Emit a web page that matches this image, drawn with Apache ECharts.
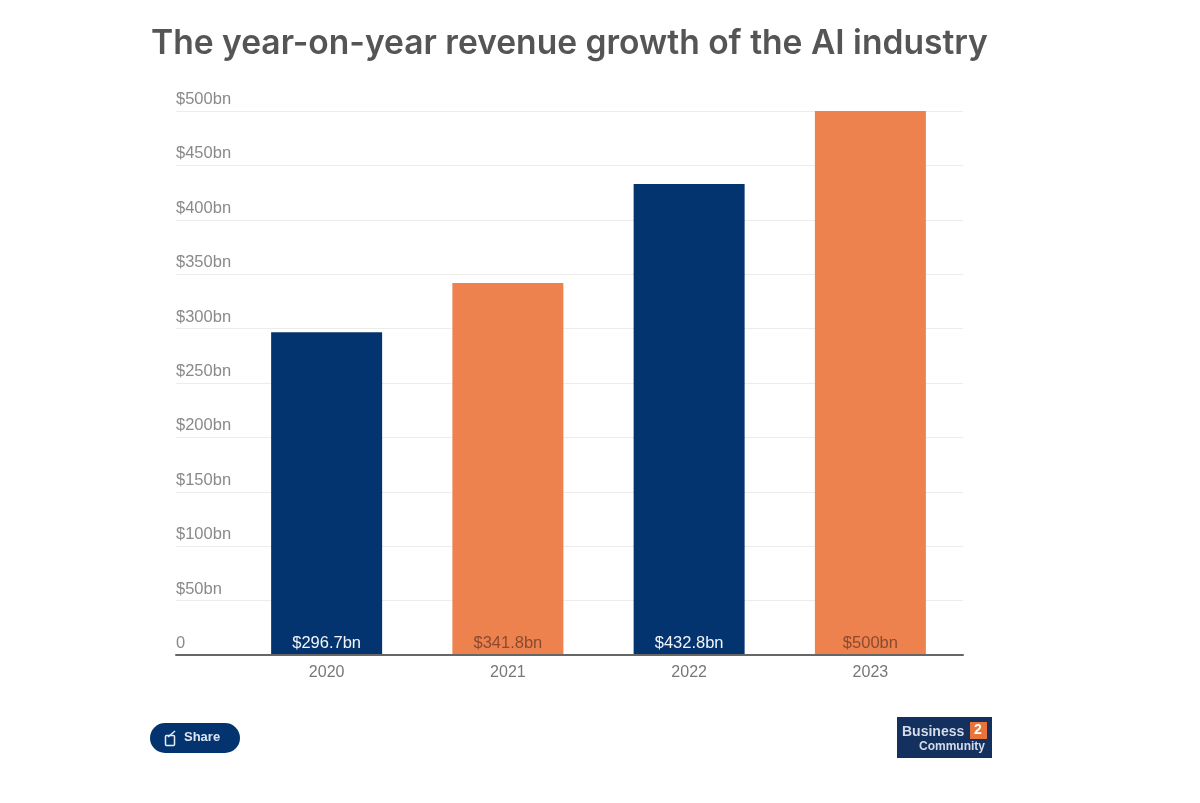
<!DOCTYPE html>
<html><head><meta charset="utf-8">
<style>html,body{margin:0;padding:0;background:#fff}#c{width:1200px;height:803px}</style>
<script src="https://cdn.jsdelivr.net/npm/echarts@6/dist/echarts.min.js"></script>
</head><body><div id="c"></div>
<script>
const titleText = 'The year-on-year revenue growth of the AI industry';
const years = ['2020','2021','2022','2023'];
const revenue = [296.7,341.8,432.8,500];
const valueLabels = ['$296.7bn','$341.8bn','$432.8bn','$500bn'];
const barColors = ['#04346f','#ee824f','#04346f','#ee824f'];
const labelColors = ['#f2f4f8','#8a4a30','#f2f4f8','#8a4a30'];
const narrow = '"Liberation Sans",sans-serif';
const chart = echarts.init(document.getElementById('c'));
chart.setOption({
  animation:false,
  backgroundColor:'#fff',
  title:{text:titleText,left:146,top:22,textStyle:{fontFamily:'Inter',fontWeight:600,fontSize:33.6,color:'#555555'}},
  grid:[
    {left:176,top:111,width:787,height:544},
    {left:236,top:111,width:725,height:544}
  ],
  xAxis:[
    {type:'category',gridIndex:0,data:[''],axisLine:{lineStyle:{color:'#666',width:2}},axisTick:{show:false},axisLabel:{show:false},z:5},
    {type:'category',gridIndex:1,data:years,axisLine:{show:false},axisTick:{show:false},
     axisLabel:{margin:10,fontFamily:narrow,fontSize:16,color:'#777'}}
  ],
  yAxis:[
    {type:'value',gridIndex:0,min:0,max:500,interval:50,axisLine:{show:false},axisTick:{show:false},
     splitLine:{lineStyle:{color:'#ececec',width:1}},
     axisLabel:{inside:true,margin:0,verticalAlign:'bottom',padding:[0,0,3,0],fontFamily:narrow,fontSize:16.5,color:'#8a8a8a',
       formatter:v=>v===0?'0':'$'+v+'bn'}},
    {type:'value',gridIndex:1,min:0,max:500,interval:50,show:false}
  ],
  series:[{
    type:'bar',xAxisIndex:1,yAxisIndex:1,barWidth:111,
    data:revenue.map((v,i)=>({value:v,itemStyle:{color:barColors[i]},
      label:{show:true,position:'insideBottom',distance:3,formatter:valueLabels[i],color:labelColors[i],fontFamily:narrow,fontSize:16.5}}))
  }],
  graphic:[
    {type:'rect',left:150,top:723,shape:{width:90,height:30,r:15},style:{fill:'#04346f'}},
    {type:'rect',left:163,top:733,shape:{width:9,height:10,r:1},style:{fill:'none',stroke:'#e8edf4',lineWidth:1.5}},
    {type:'line',shape:{x1:168,y1:737,x2:175,y2:731},style:{stroke:'#e8edf4',lineWidth:1.5}},
    {type:'text',left:184,top:731,style:{text:'Share',fill:'#dfe6ef',font:'600 13px "Liberation Sans",sans-serif'}},
    {type:'rect',left:897,top:717,shape:{width:95,height:41},style:{fill:'#13305f'}},
    {type:'rect',left:970,top:722,shape:{width:17,height:17},style:{fill:'#e8743a'}},
    {type:'text',left:974,top:723,style:{text:'2',fill:'#fff',font:'700 14px "Liberation Sans",sans-serif'}},
    {type:'text',left:902,top:725,style:{text:'Business',fill:'#d5dce8',font:'700 14px "Liberation Sans",sans-serif'}},
    {type:'text',left:919,top:741,style:{text:'Community',fill:'#d5dce8',font:'600 12px "Liberation Sans",sans-serif'}}
  ]
});
</script></body></html>
